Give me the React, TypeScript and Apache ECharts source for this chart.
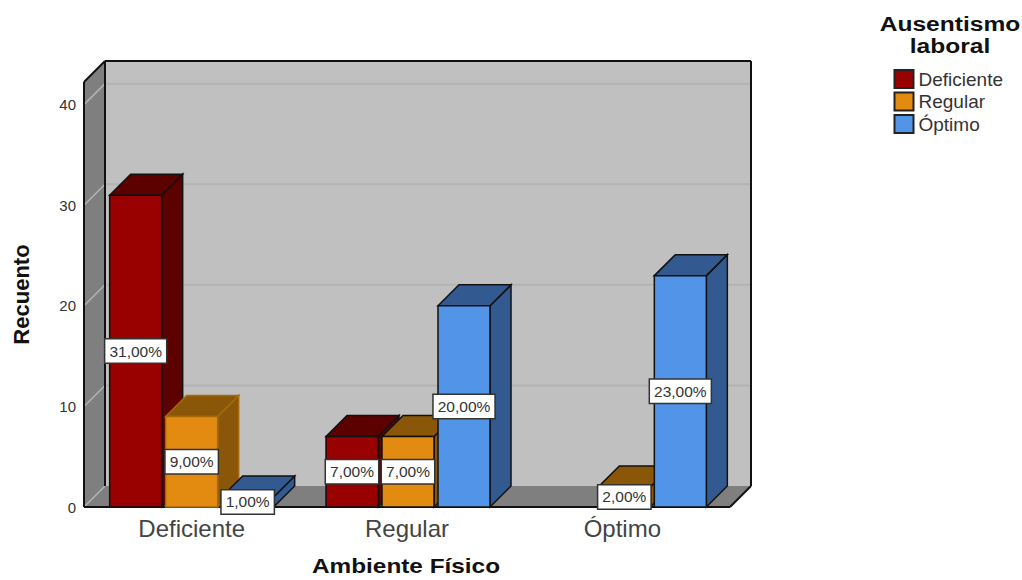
import React, { useEffect, useRef } from "react";
import * as echarts from "echarts";

const categories = ["Deficiente", "Regular", "Óptimo"];
const seriesNames = ["Deficiente", "Regular", "Óptimo"];
const deficienteValues = [31, 7, null];
const regularValues = [9, 7, 2];
const optimoValues = [1, 20, 23];
const yTicks = [0, 10, 20, 30, 40];

const FONT = "'Liberation Sans', Arial, sans-serif";
const DEPTH = 21;
const BAR_WIDTH = 52;
const BAR_PITCH = 56;
const CATEGORY_DRIFT = 1;
const INK = "#111111";

const fronts = ["#990000", "#e28b10", "#5294e8"];
const shades = ["#5c0000", "#8a5708", "#325a91"];

const formatPercent = (v: number) => v.toFixed(2).replace(".", ",") + "%";

// The first orange bar carries a soft outline; every other box a dark one.
const outlineFor = (seriesIndex: number, categoryIndex: number) =>
  seriesIndex === 1 && categoryIndex === 0 ? "#a8690c" : INK;

// Back wall, side wall, floor and their gridlines, in a fixed oblique projection.
function renderWalls(params: any, api: any) {
  const cs = params.coordSys;
  const l = cs.x;
  const r = cs.x + cs.width;
  const t = cs.y;
  const b = cs.y + cs.height;
  const poly = (points: number[][], fill: string) => ({
    type: "polygon",
    shape: { points },
    style: { fill, stroke: "none" },
  });
  const seg = (x1: number, y1: number, x2: number, y2: number, stroke: string, lineWidth: number) => ({
    type: "line",
    shape: { x1, y1, x2, y2 },
    style: { stroke, lineWidth, fill: "none" },
  });
  const children: any[] = [
    poly([[l + DEPTH, t - DEPTH], [r + DEPTH, t - DEPTH], [r + DEPTH, b - DEPTH], [l + DEPTH, b - DEPTH]], "#c0c0c0"),
    poly([[l, t], [l + DEPTH, t - DEPTH], [l + DEPTH, b - DEPTH], [l, b]], "#7f7f7f"),
    poly([[l, b], [l + DEPTH, b - DEPTH], [r + DEPTH, b - DEPTH], [r, b]], "#7f7f7f"),
  ];
  yTicks.forEach((v) => {
    const y = api.coord([0, v])[1];
    children.push(seg(l, y, l + DEPTH, y - DEPTH, "#b4b4b4", 1.5));
    if (v > 0) children.push(seg(l + DEPTH, y - DEPTH, r + DEPTH, y - DEPTH, "#b3b3b3", 2));
  });
  children.push(
    seg(l, t, l, b, INK, 2),
    seg(l, t, l + DEPTH, t - DEPTH, INK, 2),
    seg(l + DEPTH, t - DEPTH, r + DEPTH, t - DEPTH, INK, 2),
    seg(l + DEPTH, t - DEPTH, l + DEPTH, b - DEPTH, INK, 2),
    seg(r + DEPTH, t - DEPTH, r + DEPTH, b - DEPTH, INK, 2),
    seg(r + DEPTH, b - DEPTH, r, b, INK, 2),
    seg(l, b, r, b, INK, 2),
  );
  return { type: "group", children };
}

// One oblique box per value, with its percentage tag above every bar.
function makeBarRenderer(seriesIndex: number) {
  return (params: any, api: any) => {
    const value = api.value(1);
    if (value == null || Number.isNaN(value)) return null;
    const top = api.coord([api.value(0), value]);
    const base = api.coord([api.value(0), 0]);
    const cx = top[0] + (seriesIndex - 1) * BAR_PITCH + params.dataIndex * CATEGORY_DRIFT;
    const x0 = cx - BAR_WIDTH / 2;
    const x1 = cx + BAR_WIDTH / 2;
    const yt = top[1];
    const yb = base[1];
    const stroke = outlineFor(seriesIndex, params.dataIndex);
    const face = (points: number[][], fill: string) => ({
      type: "polygon",
      shape: { points },
      style: { fill, stroke, lineWidth: 1.5 },
    });
    return {
      type: "group",
      children: [
        face([[x1, yt], [x1 + DEPTH, yt - DEPTH], [x1 + DEPTH, yb - DEPTH], [x1, yb]], shades[seriesIndex]),
        face([[x0, yt], [x0 + DEPTH, yt - DEPTH], [x1 + DEPTH, yt - DEPTH], [x1, yt]], shades[seriesIndex]),
        face([[x0, yt], [x1, yt], [x1, yb], [x0, yb]], fronts[seriesIndex]),
        {
          type: "text",
          z2: 100,
          x: cx,
          y: (yt + yb) / 2,
          style: {
            text: formatPercent(value),
            fontFamily: FONT,
            fontSize: 15.5,
            fill: "#333333",
            align: "center",
            verticalAlign: "middle",
            backgroundColor: "#ffffff",
            borderColor: "#333333",
            borderWidth: 1.5,
            padding: [4, 4, 3, 4],
          },
        },
      ],
    };
  };
}

const valueLists = [deficienteValues, regularValues, optimoValues];

export default function App() {
  const ref = useRef<HTMLDivElement>(null);

  useEffect(() => {
    if (!ref.current) return;
    const chart = echarts.init(ref.current, null, { renderer: "svg" });
    // Bold headings are set a little wide, so they are drawn as scaled graphic texts.
    const heading = (text: string, x: number, y: number, scaleX: number) => ({
      type: "text",
      x,
      y,
      scaleX,
      style: {
        text,
        fontFamily: FONT,
        fontSize: 21,
        fontWeight: "bold",
        fill: INK,
        align: "center",
        verticalAlign: "middle",
      },
    });
    chart.setOption({
      animation: false,
      backgroundColor: "#ffffff",
      graphic: [
        heading("Ausentismo", 950, 24, 1.17),
        heading("laboral", 950, 46, 1.17),
        heading("Ambiente Físico", 406, 566, 1.16),
      ],
      legend: {
        data: seriesNames,
        orient: "vertical",
        left: 893.5,
        top: 69,
        padding: 0,
        itemWidth: 19,
        itemHeight: 18,
        itemGap: 2.5,
        icon: "rect",
        selectedMode: false,
        textStyle: { fontFamily: FONT, fontSize: 19, color: "#333333" },
      },
      grid: { left: 84, top: 82, width: 646, height: 425, outerBoundsMode: "none" },
      xAxis: {
        type: "category",
        data: categories,
        axisLine: { show: false },
        axisTick: { show: false },
        axisLabel: { fontFamily: FONT, fontSize: 24, color: "#444444", margin: 9 },
      },
      yAxis: {
        type: "value",
        min: 0,
        max: 42.25,
        interval: 10,
        name: "Recuento",
        nameLocation: "middle",
        nameGap: 52,
        nameTextStyle: { fontFamily: FONT, fontSize: 22, fontWeight: "bold", color: "#111111" },
        axisLine: { show: false },
        axisTick: { show: false },
        splitLine: { show: false },
        axisLabel: { fontFamily: FONT, fontSize: 15, color: "#333333", margin: 8, showMaxLabel: false },
      },
      series: [
        {
          type: "custom",
          name: "paredes",
          data: [[0, 0]],
          encode: { x: 0, y: 1 },
          renderItem: renderWalls,
          silent: true,
        },
        ...seriesNames.map((name, i) => ({
          type: "custom",
          name,
          encode: { x: 0, y: 1 },
          data: valueLists[i].map((v, c) => [c, v ?? "-"]),
          renderItem: makeBarRenderer(i),
          itemStyle: { color: fronts[i], borderColor: "#222222", borderWidth: 1.5 },
          silent: true,
        })),
      ],
    });
    return () => chart.dispose();
  }, []);

  return (
    <div
      ref={ref}
      style={{ position: "fixed", left: 0, top: 0, width: 1022, height: 580 }}
    />
  );
}
